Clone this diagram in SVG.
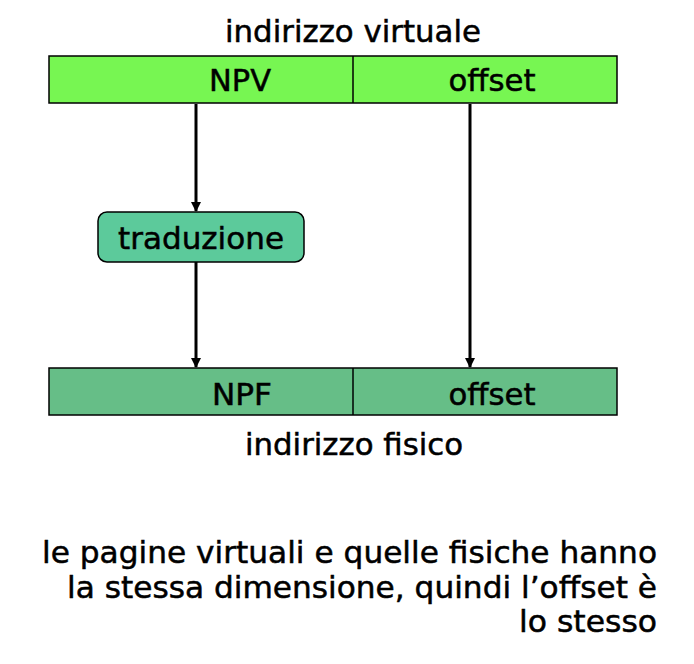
<svg xmlns="http://www.w3.org/2000/svg" width="694" height="664" viewBox="0 0 694 664">
<defs>
<marker id="ah" markerWidth="10" markerHeight="10" refX="9" refY="5" orient="auto" markerUnits="userSpaceOnUse" viewBox="0 0 10 10">
<path d="M0,0 L10,5 L0,10 z" fill="#000"/>
</marker>
<style>
text{font-family:"DejaVu Sans","Verdana",sans-serif;font-size:30px;fill:#000;stroke:#000;stroke-width:0.5}
.c{text-anchor:middle}
.r{text-anchor:end}
.bar{stroke:#000;stroke-width:1.5}
.ln{stroke:#000;stroke-width:3;fill:none}
</style>
</defs>
<rect width="694" height="664" fill="#fff"/>
<text class="c" x="353" y="42" textLength="256" lengthAdjust="spacingAndGlyphs">indirizzo virtuale</text>
<g id="virtual">
<rect class="bar" x="49" y="56" width="568" height="47" fill="#77F652"/>
<line class="bar" x1="353" y1="56" x2="353" y2="103"/>
<text class="c" x="240" y="91" textLength="62" lengthAdjust="spacingAndGlyphs">NPV</text>
<text class="c" x="492" y="91" textLength="87" lengthAdjust="spacingAndGlyphs">offset</text>
</g>
<g id="traduzione">
<rect x="98" y="212" width="206" height="50" rx="9" fill="#5CCA9B" stroke="#000" stroke-width="1.5"/>
<text class="c" x="201" y="249" textLength="166" lengthAdjust="spacingAndGlyphs">traduzione</text>
</g>
<g id="physical">
<rect class="bar" x="49" y="368" width="568" height="47" fill="#66BE87"/>
<line class="bar" x1="353" y1="368" x2="353" y2="415"/>
<text class="c" x="242" y="405" textLength="60" lengthAdjust="spacingAndGlyphs">NPF</text>
<text class="c" x="492" y="405" textLength="87" lengthAdjust="spacingAndGlyphs">offset</text>
</g>
<text class="c" x="354" y="455" textLength="218" lengthAdjust="spacingAndGlyphs">indirizzo fisico</text>
<g id="connectors">
<line class="ln" x1="196" y1="104" x2="196" y2="211" marker-end="url(#ah)"/>
<line class="ln" x1="196" y1="262" x2="196" y2="367" marker-end="url(#ah)"/>
<line class="ln" x1="470" y1="104" x2="470" y2="367" marker-end="url(#ah)"/>
</g>
<g id="note">
<text class="r" x="657" y="563" textLength="615" lengthAdjust="spacingAndGlyphs">le pagine virtuali e quelle fisiche hanno</text>
<text class="r" x="657" y="598" textLength="590" lengthAdjust="spacingAndGlyphs">la stessa dimensione, quindi l’offset è</text>
<text class="r" x="657" y="632" textLength="138" lengthAdjust="spacingAndGlyphs">lo stesso</text>
</g>
</svg>
